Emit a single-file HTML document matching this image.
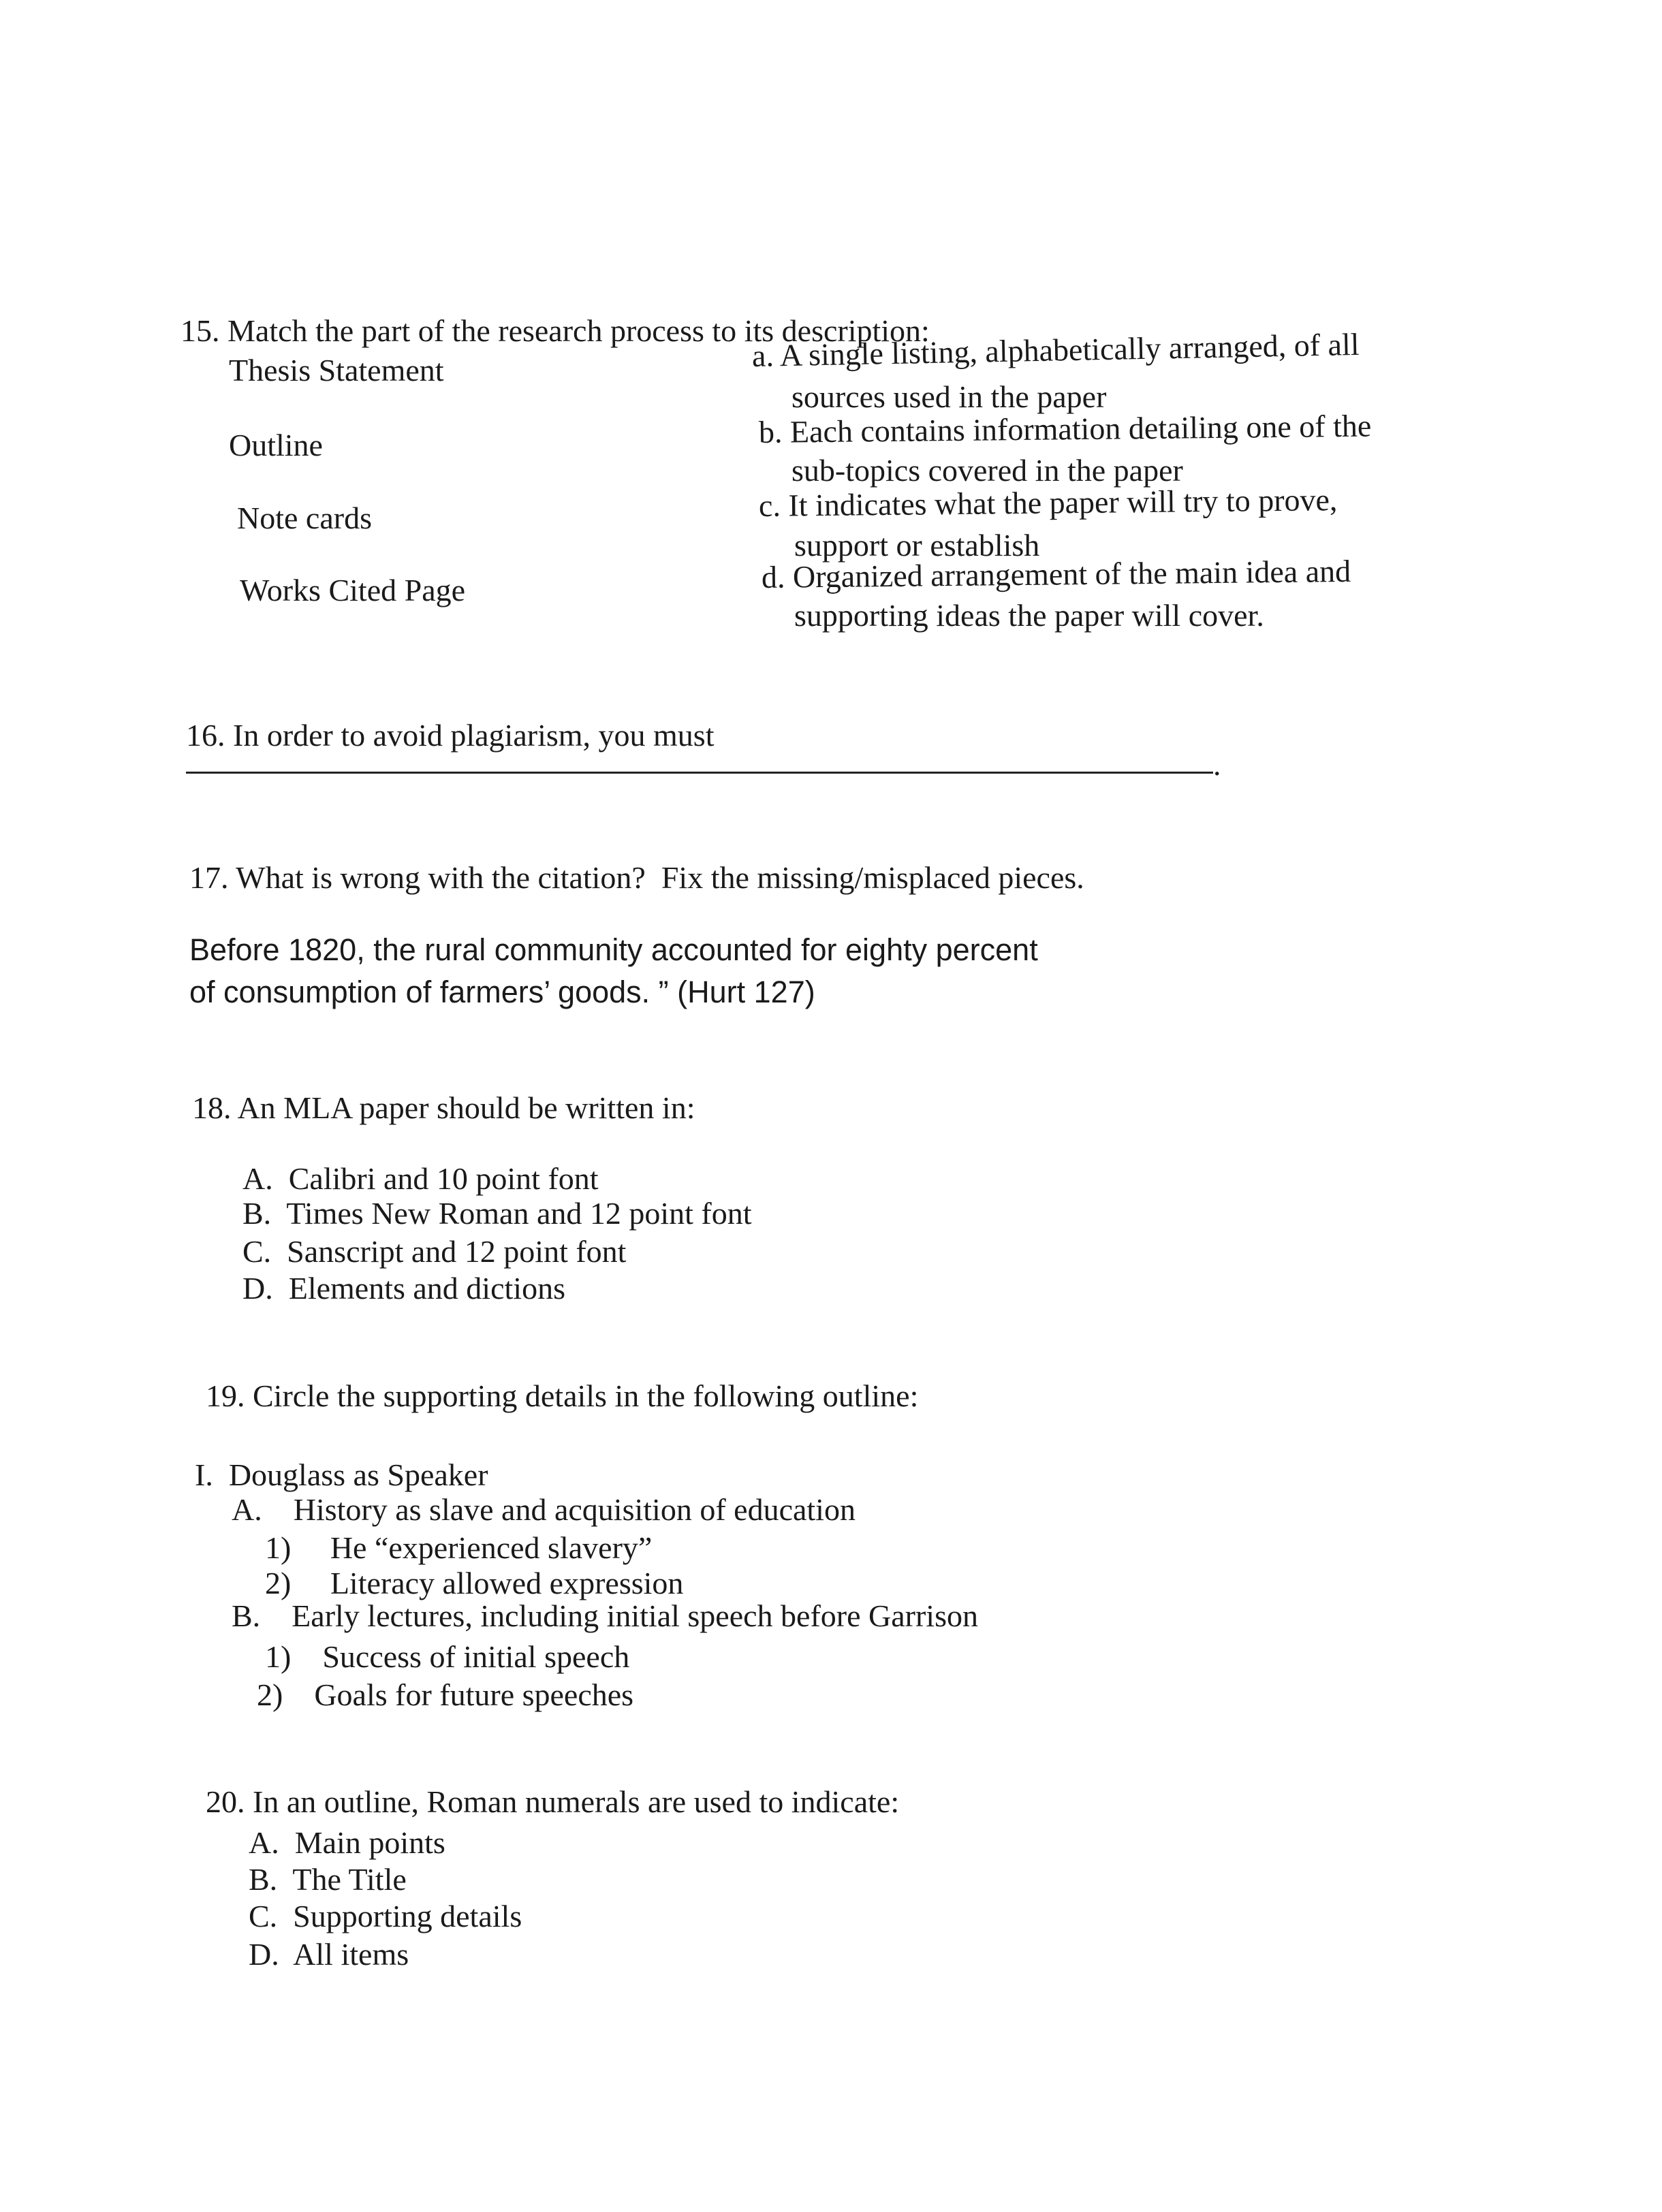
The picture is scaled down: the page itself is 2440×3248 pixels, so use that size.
<!DOCTYPE html>
<html><head><meta charset="utf-8">
<style>
html,body{margin:0;padding:0;background:#fff;}
body{width:2440px;height:3248px;position:relative;overflow:hidden;}
.t{position:absolute;font-family:"Liberation Serif",serif;font-size:46px;line-height:50px;color:#1a1a1a;white-space:pre;}
.s{font-family:"Liberation Sans",sans-serif;font-size:45px;}
</style></head><body>
<div class="t" style="left:265px;top:461px">15. Match the part of the research process to its description:</div>
<div class="t" style="left:336px;top:519px">Thesis Statement</div>
<div class="t" style="left:1104px;top:498px;transform:rotate(-1.1deg);transform-origin:left center">a. A single listing, alphabetically arranged, of all</div>
<div class="t" style="left:1162px;top:558px">sources used in the paper</div>
<div class="t" style="left:336px;top:629px">Outline</div>
<div class="t" style="left:1114px;top:610px;transform:rotate(-0.6deg);transform-origin:left center">b. Each contains information detailing one of the</div>
<div class="t" style="left:1162px;top:666px">sub-topics covered in the paper</div>
<div class="t" style="left:348px;top:736px">Note cards</div>
<div class="t" style="left:1114px;top:718px;transform:rotate(-0.6deg);transform-origin:left center">c. It indicates what the paper will try to prove,</div>
<div class="t" style="left:1166px;top:776px">support or establish</div>
<div class="t" style="left:352px;top:842px">Works Cited Page</div>
<div class="t" style="left:1118px;top:823px;transform:rotate(-0.6deg);transform-origin:left center">d. Organized arrangement of the main idea and</div>
<div class="t" style="left:1166px;top:879px">supporting ideas the paper will cover.</div>

<div class="t" style="left:273px;top:1055px">16. In order to avoid plagiarism, you must</div>
<div style="position:absolute;left:273px;top:1133px;width:1508px;height:3px;background:#222"></div>
<div class="t" style="left:1781px;top:1098px">.</div>

<div class="t" style="left:278px;top:1264px">17. What is wrong with the citation?  Fix the missing/misplaced pieces.</div>
<div class="t s" style="left:278px;top:1370px">Before 1820, the rural community accounted for eighty percent</div>
<div class="t s" style="left:278px;top:1432px">of consumption of farmers’ goods. ” (Hurt 127)</div>

<div class="t" style="left:282px;top:1602px">18. An MLA paper should be written in:</div>
<div class="t" style="left:356px;top:1706px">A.  Calibri and 10 point font</div>
<div class="t" style="left:356px;top:1757px">B.  Times New Roman and 12 point font</div>
<div class="t" style="left:356px;top:1813px">C.  Sanscript and 12 point font</div>
<div class="t" style="left:356px;top:1867px">D.  Elements and dictions</div>

<div class="t" style="left:302px;top:2025px">19. Circle the supporting details in the following outline:</div>
<div class="t" style="left:286px;top:2141px">I.  Douglass as Speaker</div>
<div class="t" style="left:340px;top:2192px">A.    History as slave and acquisition of education</div>
<div class="t" style="left:389px;top:2248px">1)     He “experienced slavery”</div>
<div class="t" style="left:389px;top:2300px">2)     Literacy allowed expression</div>
<div class="t" style="left:340px;top:2348px">B.    Early lectures, including initial speech before Garrison</div>
<div class="t" style="left:389px;top:2408px">1)    Success of initial speech</div>
<div class="t" style="left:377px;top:2464px">2)    Goals for future speeches</div>

<div class="t" style="left:302px;top:2621px">20. In an outline, Roman numerals are used to indicate:</div>
<div class="t" style="left:365px;top:2681px">A.  Main points</div>
<div class="t" style="left:365px;top:2735px">B.  The Title</div>
<div class="t" style="left:365px;top:2789px">C.  Supporting details</div>
<div class="t" style="left:365px;top:2845px">D.  All items</div>
</body></html>
